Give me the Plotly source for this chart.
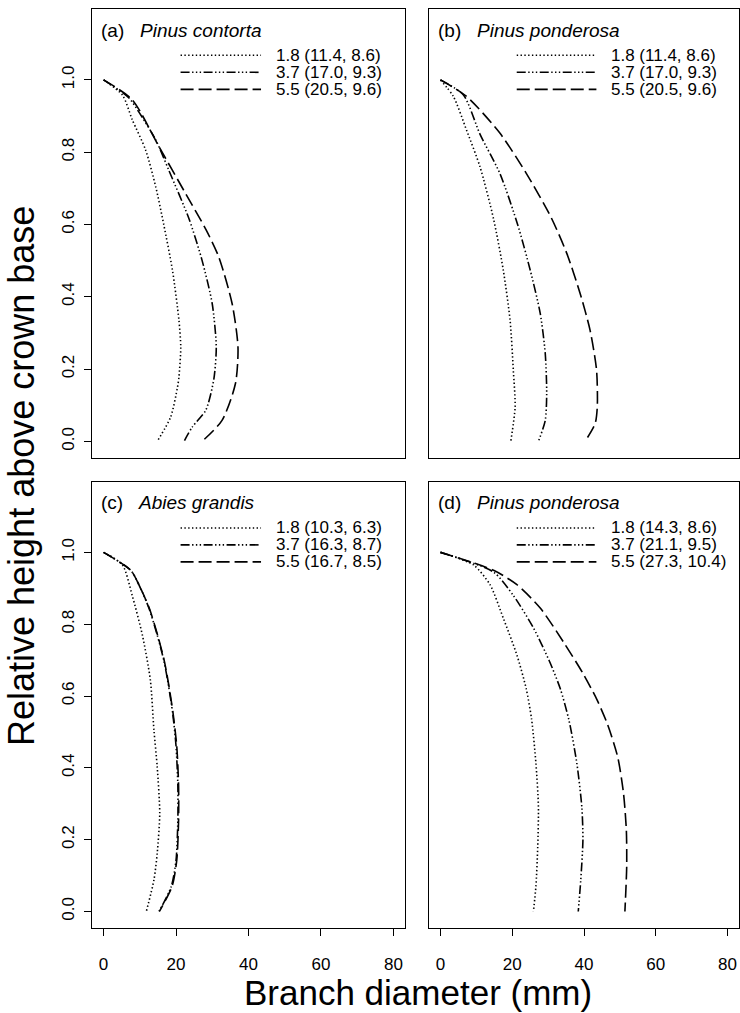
import plotly.graph_objects as go

# Relative height above crown base (top to bottom) and branch diameter (mm)
# for each leaf-area class, one set per panel.

# (a) Pinus contorta
a_h18 = [1.0, 0.958, 0.89, 0.806, 0.704, 0.6, 0.474, 0.335, 0.26, 0.178, 0.15, 0.067, 0.0]
a_d18 = [0.0, 5.2, 7.9, 11.6, 14.4, 16.6, 19.0, 20.8, 21.3, 20.8, 20.4, 18.5, 14.8]
a_h37 = [1.0, 0.95, 0.91, 0.834, 0.75, 0.615, 0.50, 0.38, 0.26, 0.17, 0.086, 0.04, 0.0]
a_d37 = [0.0, 7.0, 9.8, 14.4, 18.0, 23.6, 27.2, 30.0, 31.1, 30.4, 28.2, 24.5, 22.2]
a_h55 = [1.0, 0.945, 0.815, 0.686, 0.585, 0.51, 0.38, 0.26, 0.16, 0.058, 0.0]
a_d55 = [0.0, 7.9, 15.3, 22.6, 28.3, 31.8, 35.5, 37.1, 36.4, 32.7, 27.2]

# (b) Pinus ponderosa
b_h18 = [1.0, 0.954, 0.86, 0.76, 0.615, 0.474, 0.335, 0.197, 0.095, 0.0]
b_d18 = [0.0, 3.6, 7.3, 11.0, 14.8, 17.5, 19.4, 20.3, 20.8, 19.6]
b_h37 = [1.0, 0.958, 0.85, 0.74, 0.6, 0.474, 0.354, 0.243, 0.132, 0.058, 0.0]
b_d37 = [0.0, 6.4, 11.0, 16.6, 21.5, 25.0, 27.8, 29.2, 29.6, 29.2, 27.3]
b_h55 = [1.0, 0.954, 0.852, 0.74, 0.62, 0.52, 0.41, 0.307, 0.197, 0.095, 0.049, 0.0]
b_d55 = [0.0, 7.3, 16.6, 24.0, 30.8, 35.2, 38.9, 41.7, 43.5, 43.7, 43.1, 40.3]

# (c) Abies grandis
c_h18 = [1.0, 0.965, 0.88, 0.77, 0.645, 0.505, 0.403, 0.273, 0.162, 0.088, 0.0]
c_d18 = [0.0, 5.2, 7.9, 10.7, 12.9, 13.9, 14.8, 15.5, 14.8, 13.9, 11.8]
c_h37 = [1.0, 0.95, 0.9, 0.845, 0.77, 0.696, 0.63, 0.55, 0.46, 0.35, 0.255, 0.143, 0.07, 0.0]
c_d37 = [0.0, 7.5, 10.2, 12.5, 14.8, 16.7, 17.9, 19.1, 20.0, 20.5, 20.5, 20.0, 18.7, 15.3]
c_h55 = [1.0, 0.95, 0.9, 0.845, 0.77, 0.696, 0.63, 0.55, 0.46, 0.35, 0.255, 0.143, 0.07, 0.0]
c_d55 = [0.0, 7.5, 10.2, 12.6, 14.9, 16.8, 18.0, 19.2, 20.2, 20.7, 20.7, 20.2, 18.9, 15.4]

# (d) Pinus ponderosa
d_h18 = [1.0, 0.965, 0.91, 0.817, 0.714, 0.62, 0.535, 0.413, 0.292, 0.18, 0.07, 0.0]
d_d18 = [0.0, 9.2, 13.8, 17.5, 21.3, 23.9, 25.4, 26.6, 27.3, 27.1, 26.6, 25.9]
d_h37 = [1.0, 0.945, 0.88, 0.79, 0.696, 0.62, 0.533, 0.413, 0.29, 0.2, 0.088, 0.0]
d_d37 = [0.0, 14.8, 20.3, 25.9, 30.4, 33.4, 35.8, 38.0, 39.4, 39.7, 39.1, 38.4]
d_h55 = [1.0, 0.95, 0.91, 0.845, 0.75, 0.665, 0.59, 0.52, 0.43, 0.33, 0.227, 0.125, 0.0]
d_d55 = [0.0, 14.8, 21.3, 27.8, 34.3, 39.6, 43.6, 46.6, 49.4, 51.0, 51.8, 51.9, 51.4]

# Legend entries: leaf-area class followed by two stand values per panel
leaf_area = ["1.8", "3.7", "5.5"]
a_pairs = [("11.4", "8.6"), ("17.0", "9.3"), ("20.5", "9.6")]
b_pairs = [("11.4", "8.6"), ("17.0", "9.3"), ("20.5", "9.6")]
c_pairs = [("10.3", "6.3"), ("16.3", "8.7"), ("16.7", "8.5")]
d_pairs = [("14.3", "8.6"), ("21.1", "9.5"), ("27.3", "10.4")]

panel_tags = ["(a)", "(b)", "(c)", "(d)"]
species = ["Pinus contorta", "Pinus ponderosa", "Abies grandis", "Pinus ponderosa"]

x_ticks = [0, 20, 40, 60, 80]
y_ticks = [0.0, 0.2, 0.4, 0.6, 0.8, 1.0]

panels = [
    [(a_d18, a_h18), (a_d37, a_h37), (a_d55, a_h55)],
    [(b_d18, b_h18), (b_d37, b_h37), (b_d55, b_h55)],
    [(c_d18, c_h18), (c_d37, c_h37), (c_d55, c_h55)],
    [(d_d18, d_h18), (d_d37, d_h37), (d_d55, d_h55)],
]
pairs = [a_pairs, b_pairs, c_pairs, d_pairs]

# line styles: dotted, long dash + dots, long dashes
dashes = [
    "1.4px,2.4px",
    "9px,2.5px,1.4px,2.4px,1.4px,2.4px,1.4px,2.5px",
    "13px,5px",
]

FONT = "Liberation Sans, Arial, Helvetica, sans-serif"
W, H = 740, 1013

# panel boxes in pixels (left, right) and (top, bottom)
cols = [(92, 405), (429, 739)]
rows = [(9, 458), (482, 928)]

fig = go.Figure()
layout = dict(
    width=W, height=H,
    margin=dict(l=0, r=0, t=0, b=0),
    paper_bgcolor="white", plot_bgcolor="white",
    showlegend=False,
    font=dict(family=FONT, color="black"),
)

x_range = [-3.2, 83.2]
y_range = [-0.046, 1.196]

annotations = []
shapes = []

for i in range(4):
    r, c = divmod(i, 2)
    n = i + 1
    xa = "x" if n == 1 else f"x{n}"
    ya = "y" if n == 1 else f"y{n}"
    xkey = "xaxis" if n == 1 else f"xaxis{n}"
    ykey = "yaxis" if n == 1 else f"yaxis{n}"
    l, rt = cols[c]
    t, b = rows[r]
    bottom_row = r == 1
    left_col = c == 0

    layout[xkey] = dict(
        domain=[l / W, rt / W], range=x_range, anchor=ya,
        showline=True, linecolor="black", linewidth=1.4, mirror=True,
        showgrid=False, zeroline=False,
        tickmode="array", tickvals=x_ticks,
        ticks="outside" if bottom_row else "", ticklen=7, tickwidth=1.2,
        tickcolor="black",
        showticklabels=bottom_row, ticklabelstandoff=13,
        tickfont=dict(size=17, family=FONT),
    )
    layout[ykey] = dict(
        domain=[1 - b / H, 1 - t / H], range=y_range, anchor=xa,
        showline=True, linecolor="black", linewidth=1.4, mirror=True,
        showgrid=False, zeroline=False,
        tickmode="array", tickvals=y_ticks, tickformat=".1f",
        ticks="outside" if left_col else "", ticklen=7, tickwidth=1.2,
        tickcolor="black",
        showticklabels=left_col, tickangle=-90, ticklabelstandoff=3,
        tickfont=dict(size=17, family=FONT),
    )

    for (dia, hgt), dash in zip(panels[i], dashes):
        fig.add_trace(go.Scatter(
            x=dia, y=hgt, mode="lines", xaxis=xa, yaxis=ya,
            line=dict(color="black", width=1.6, dash=dash,
                      shape="spline", smoothing=0.7),
            hoverinfo="skip",
        ))

    # panel heading
    annotations.append(dict(
        xref=f"{xa} domain", yref=f"{ya} domain", x=0.022, y=0.953,
        xanchor="left", yanchor="middle", showarrow=False,
        text=f"{panel_tags[i]}&nbsp;&nbsp; <i>{species[i]}</i>",
        font=dict(size=19, family=FONT, color="black"),
    ))

    # legend: line sample and label for each class
    for k, yy in enumerate([0.897, 0.859, 0.821]):
        shapes.append(dict(
            type="line", xref=f"{xa} domain", yref=f"{ya} domain",
            x0=0.283, x1=0.54, y0=yy, y1=yy,
            line=dict(color="black", width=1.6, dash=dashes[k]),
        ))
        p1, p2 = pairs[i][k]
        annotations.append(dict(
            xref=f"{xa} domain", yref=f"{ya} domain", x=0.58, y=yy,
            xanchor="left", yanchor="middle", showarrow=False,
            text=f"{leaf_area[k]} ({p1}, {p2})",
            font=dict(size=17, family=FONT, color="black"),
        ))

# shared axis titles
annotations.append(dict(
    xref="paper", yref="paper", x=418 / W, y=1 - 992 / H,
    xanchor="center", yanchor="middle", showarrow=False,
    text="Branch diameter (mm)", font=dict(size=35, family=FONT, color="black"),
))
annotations.append(dict(
    xref="paper", yref="paper", x=21 / W, y=1 - 476 / H,
    xanchor="center", yanchor="middle", showarrow=False, textangle=-90,
    text="Relative height above crown base",
    font=dict(size=36, family=FONT, color="black"),
))

layout["annotations"] = annotations
layout["shapes"] = shapes
fig.update_layout(**layout)

fig.write_html("out.html")
